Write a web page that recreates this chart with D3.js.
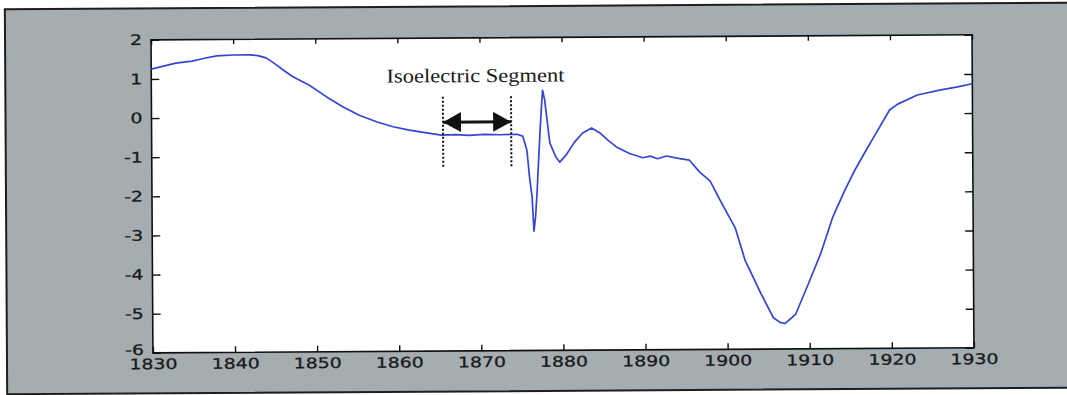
<!DOCTYPE html>
<html>
<head>
<meta charset="utf-8">
<script src="https://cdn.jsdelivr.net/npm/d3@7"></script>
<style>
  html, body { margin: 0; background: #fff; overflow: hidden; }
  svg { display: block; }
</style>
</head>
<body>
<div id="chart"></div>
<script>
// ECG trace data
var times = [1830, 1831, 1832, 1833, 1835, 1836.5, 1838, 1840, 1842, 1843, 1844, 1845, 1846, 1847.2,
  1849.2, 1851.3, 1853.3, 1855.3, 1857.4, 1859.4, 1861.4, 1863.5, 1865.3, 1867, 1868.7, 1870.5,
  1872.5, 1874.5, 1875.2, 1875.7, 1876.0, 1876.3, 1876.5, 1876.7, 1876.9, 1877.3, 1877.5, 1877.65,
  1877.9, 1878.5, 1879.2, 1879.7, 1880.5, 1881.5, 1882.5, 1883.6, 1884.6, 1885.6, 1886.6, 1888.2,
  1889.8, 1890.7, 1891.6, 1892.7, 1894.3, 1895.5, 1896.7, 1898.0, 1899.2, 1901.0, 1902.2, 1904.1,
  1905.6, 1906.4, 1907.0, 1908.3, 1909.9, 1911.4, 1912.9, 1914.4, 1915.6, 1916.8, 1917.9, 1919.9, 1920.9,
  1923.3, 1926.0, 1928.2, 1930];
var values = [1.25, 1.30, 1.35, 1.40, 1.45, 1.52, 1.58, 1.60, 1.60, 1.58, 1.52, 1.38, 1.22, 1.04,
  0.82, 0.52, 0.26, 0.04, -0.13, -0.26, -0.35, -0.42, -0.48, -0.47, -0.49, -0.47,
  -0.48, -0.47, -0.52, -0.88, -1.57, -2.08, -2.95, -2.6, -1.98, -0.45, 0.22, 0.65,
  0.4, -0.7, -1.05, -1.19, -1.0, -0.68, -0.45, -0.32, -0.45, -0.64, -0.81, -0.98,
  -1.09, -1.05, -1.12, -1.05, -1.12, -1.16, -1.46, -1.70, -2.19, -2.89, -3.73, -4.58,
  -5.2, -5.32, -5.35, -5.12, -4.33, -3.57, -2.64, -1.95, -1.45, -1.01, -0.62, 0.09, 0.24,
  0.47, 0.59, 0.67, 0.75];
var xTicks = [1830, 1840, 1850, 1860, 1870, 1880, 1890, 1900, 1910, 1920, 1930];
var yTicks = [2, 1, 0, -1, -2, -3, -4, -5, -6];
// annotation
var segStart = 1865.5, segEnd = 1873.8;
var segTop = 0.5, segBottom = -1.3, arrowLevel = -0.15;
var labelText = 'Isoelectric Segment', labelAt = 1869.5, labelLevel = 0.87;

var W = 1067, H = 395;
var margin = {left: 152, right: 94, top: 37.5, bottom: 44.5};
var width = W - margin.left - margin.right, height = H - margin.top - margin.bottom;

var x = d3.scaleLinear().domain([1830, 1930]).range([0, width]);
var y = d3.scaleLinear().domain([-6, 2]).range([height, 0]);

var svg = d3.select('#chart').append('svg').attr('width', W).attr('height', H);
svg.append('rect').attr('width', W).attr('height', H).attr('fill', '#fff');

// the scan is slightly tilted
var page = svg.append('g').attr('transform', 'rotate(-0.35,' + (W / 2) + ',' + (H / 2) + ')');

page.append('rect')
  .attr('x', 6).attr('y', 6).attr('width', W + 120).attr('height', 385)
  .attr('fill', '#a5adb1').attr('stroke', '#1e1e1e').attr('stroke-width', 2);

var g = page.append('g').attr('transform', 'translate(' + margin.left + ',' + margin.top + ')');
g.append('rect').attr('width', width).attr('height', height).attr('fill', '#fff');

var xAxis = d3.axisBottom(x).tickValues(xTicks).tickSizeInner(-6).tickSizeOuter(0).tickPadding(6).tickFormat(d3.format('d'));
var yAxis = d3.axisLeft(y).tickValues(yTicks).tickSizeInner(-8).tickSizeOuter(0).tickPadding(9)
  .tickFormat(function(d) { return String(d); });
var xTop = d3.axisTop(x).tickValues(xTicks).tickSizeInner(-5).tickSizeOuter(0).tickFormat('');
var yRight = d3.axisRight(y).tickValues(yTicks).tickSizeInner(-8).tickSizeOuter(0).tickFormat('');

g.append('g').attr('class', 'x axis').attr('transform', 'translate(0,' + height + ')').call(xAxis);
g.append('g').attr('class', 'y axis').call(yAxis);
g.append('g').attr('class', 'axis').call(xTop);
g.append('g').attr('class', 'axis').attr('transform', 'translate(' + width + ',0)').call(yRight);

g.selectAll('.axis .domain').remove();
g.selectAll('.axis line').attr('stroke', '#111').attr('stroke-width', 1.4);
g.selectAll('.axis text')
  .attr('font-family', 'DejaVu Sans, sans-serif').attr('font-size', 14.5)
  .attr('fill', '#1a1a1a').attr('stroke', '#1a1a1a').attr('stroke-width', 0.3)
  .each(function() {
    var t = d3.select(this);
    t.attr('textLength', this.getComputedTextLength() * 1.3).attr('lengthAdjust', 'spacingAndGlyphs');
  });
// lowest y label sits just above the 1830 label
g.selectAll('.y.axis .tick text').filter(function(d) { return d === -6; }).attr('dy', '0.1em');

g.append('rect').attr('width', width).attr('height', height)
  .attr('fill', 'none').attr('stroke', '#111').attr('stroke-width', 1.6);

// trace
var pts = times.map(function(t, i) { return [t, values[i]]; });
var line = d3.line().x(function(d) { return x(d[0]); }).y(function(d) { return y(d[1]); });
g.append('path').datum(pts).attr('d', line)
  .attr('fill', 'none').attr('stroke', '#3347d2').attr('stroke-width', 1.7)
  .attr('stroke-linejoin', 'round');

// annotation
var defs = svg.append('defs');
['start', 'end'].forEach(function(k) {
  defs.append('marker').attr('id', 'ah-' + k)
    .attr('markerUnits', 'userSpaceOnUse')
    .attr('viewBox', '0 0 18 20').attr('refX', k === 'end' ? 18 : 0).attr('refY', 10)
    .attr('markerWidth', 18).attr('markerHeight', 20).attr('orient', 'auto')
    .append('path')
    .attr('d', k === 'end' ? 'M0,0L18,10L0,20Z' : 'M18,0L0,10L18,20Z')
    .attr('fill', '#111');
});
g.append('line')
  .attr('x1', x(segStart)).attr('x2', x(segEnd))
  .attr('y1', y(arrowLevel)).attr('y2', y(arrowLevel))
  .attr('stroke', '#111').attr('stroke-width', 3)
  .attr('marker-start', 'url(#ah-start)').attr('marker-end', 'url(#ah-end)');
[segStart, segEnd].forEach(function(v) {
  g.append('line')
    .attr('x1', x(v)).attr('x2', x(v)).attr('y1', y(segTop)).attr('y2', y(segBottom))
    .attr('stroke', '#111').attr('stroke-width', 2).attr('stroke-dasharray', '2,2');
});
g.append('text')
  .attr('x', x(labelAt)).attr('y', y(labelLevel))
  .attr('text-anchor', 'middle')
  .attr('font-family', 'Liberation Serif, Times New Roman, serif').attr('font-size', 19.5)
  .attr('fill', '#1a1a1a')
  .attr('textLength', 178).attr('lengthAdjust', 'spacingAndGlyphs')
  .text(labelText);
</script>
</body>
</html>
